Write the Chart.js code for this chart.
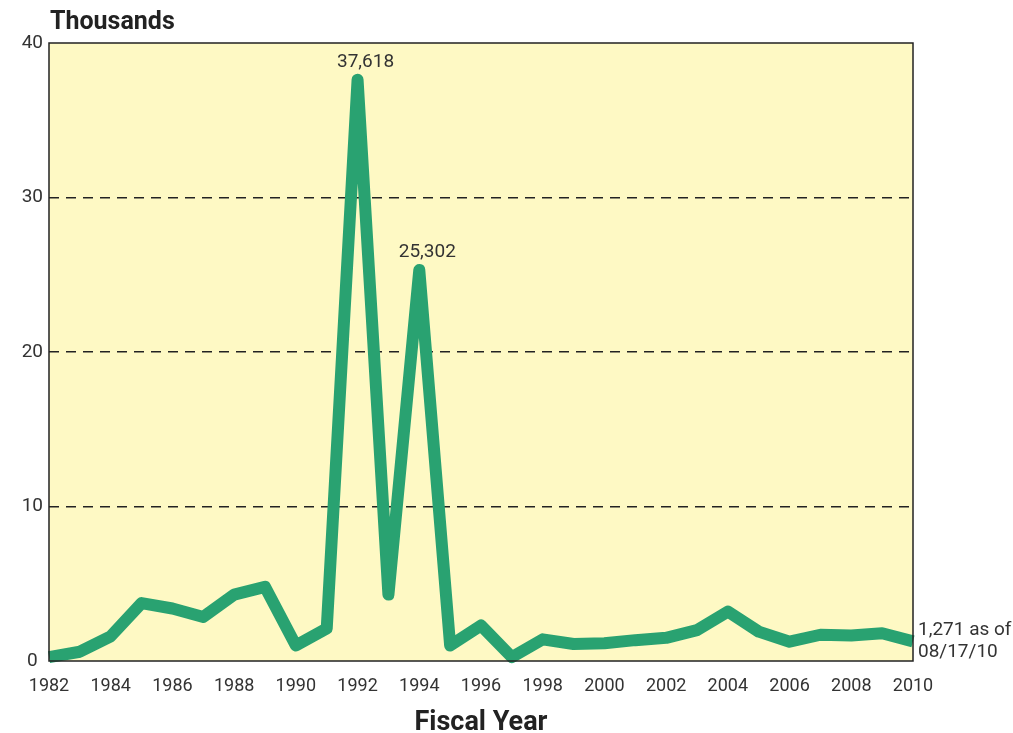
<!DOCTYPE html>
<html>
<head>
<meta charset="utf-8">
<script src="https://cdn.jsdelivr.net/npm/chart.js@4/dist/chart.umd.min.js"></script>
<style>
  html, body { margin: 0; padding: 0; background: #fff; }
  #wrap { width: 1013px; height: 733px; }
</style>
</head>
<body>
<div id="wrap"><canvas id="chart"></canvas></div>
<script>
// Fiscal years and values (thousands)
const years = [1982, 1983, 1984, 1985, 1986, 1987, 1988, 1989, 1990, 1991,
               1992, 1993, 1994, 1995, 1996, 1997, 1998, 1999, 2000, 2001,
               2002, 2003, 2004, 2005, 2006, 2007, 2008, 2009, 2010];
const values = [0.25, 0.6, 1.6, 3.75, 3.4, 2.85, 4.3, 4.8, 1.0, 2.1,
                37.618, 4.3, 25.302, 1.0, 2.3, 0.25, 1.4, 1.1, 1.15, 1.35,
                1.5, 2.0, 3.2, 1.9, 1.25, 1.7, 1.65, 1.8, 1.271];
const yTicks = [0, 10, 20, 30, 40];
const callouts = [
  { year: 1992, lines: ['37,618'], pos: 'above' },
  { year: 1994, lines: ['25,302'], pos: 'above' },
  { year: 2010, lines: ['1,271 as of', '08/17/10'], pos: 'right' }
];

const textFont = "'Liberation Sans Narrow', 'Roboto', Arial, sans-serif";

// plot background, frame, title and value callouts
const decorPlugin = {
  id: 'decor',
  beforeDraw(chart) {
    const { ctx, chartArea: a } = chart;
    ctx.save();
    ctx.fillStyle = '#fef9c4';
    ctx.fillRect(a.left, a.top, a.right - a.left, a.bottom - a.top);
    ctx.restore();
  },
  afterDraw(chart) {
    const { ctx, chartArea: a, scales } = chart;
    ctx.save();
    ctx.strokeStyle = '#222';
    ctx.lineWidth = 1.5;
    ctx.strokeRect(a.left, a.top, a.right - a.left, a.bottom - a.top);

    ctx.fillStyle = '#222';
    ctx.font = "bold 25px " + textFont;
    ctx.textAlign = 'left';
    ctx.textBaseline = 'middle';
    ctx.fillText('Thousands', 50, 23);

    ctx.font = "19px " + textFont;
    ctx.fillStyle = '#333';
    callouts.forEach(c => {
      const v = values[years.indexOf(c.year)];
      const px = scales.x.getPixelForValue(c.year);
      const py = scales.y.getPixelForValue(v);
      if (c.pos === 'above') {
        ctx.textAlign = 'center';
        ctx.textBaseline = 'bottom';
        ctx.fillText(c.lines[0], px + 8, py - 8);
      } else {
        ctx.textAlign = 'left';
        ctx.textBaseline = 'middle';
        c.lines.forEach((t, i) => ctx.fillText(t, px + 5, py - 11 + i * 22));
      }
    });
    ctx.restore();
  }
};

new Chart(document.getElementById('chart'), {
  type: 'line',
  data: {
    datasets: [{
      data: years.map((y, i) => ({ x: y, y: values[i] })),
      borderColor: '#29a271',
      borderWidth: 12,
      borderJoinStyle: 'round',
      borderCapStyle: 'butt',
      pointRadius: 0,
      tension: 0,
      clip: false
    }]
  },
  options: {
    responsive: true,
    maintainAspectRatio: false,
    animation: false,
    layout: { padding: { top: 43, right: 100, left: 0, bottom: 0 } },
    plugins: { legend: { display: false }, tooltip: { enabled: false } },
    scales: {
      x: {
        type: 'linear',
        min: 1982,
        max: 2010,
        afterBuildTicks(scale) {
          scale.ticks = years.filter(y => y % 2 === 0).map(y => ({ value: y }));
        },
        afterFit(scale) { scale.height = 72; },
        ticks: {
          callback: v => String(v),
          color: '#333',
          font: { family: textFont, size: 18 },
          maxRotation: 0,
          autoSkip: false,
          padding: 15
        },
        grid: { display: false, drawTicks: false },
        border: { display: false },
        title: {
          display: true,
          text: 'Fiscal Year',
          color: '#222',
          font: { family: textFont, size: 27, weight: 'bold' },
          padding: { top: 8, bottom: -6 }
        }
      },
      y: {
        min: 0,
        max: 40,
        afterBuildTicks(scale) {
          scale.ticks = yTicks.map(v => ({ value: v }));
        },
        afterFit(scale) { scale.width = 49; },
        ticks: {
          color: '#333',
          font: { family: textFont, size: 19 },
          crossAlign: 'center',
          padding: 6
        },
        grid: {
          drawTicks: false,
          color: c => (c.tick.value === 0 || c.tick.value === 40) ? 'rgba(0,0,0,0)' : '#222',
          lineWidth: 1.4
        },
        border: { display: false, dash: [10, 7] }
      }
    }
  },
  plugins: [decorPlugin]
});
</script>
</body>
</html>
